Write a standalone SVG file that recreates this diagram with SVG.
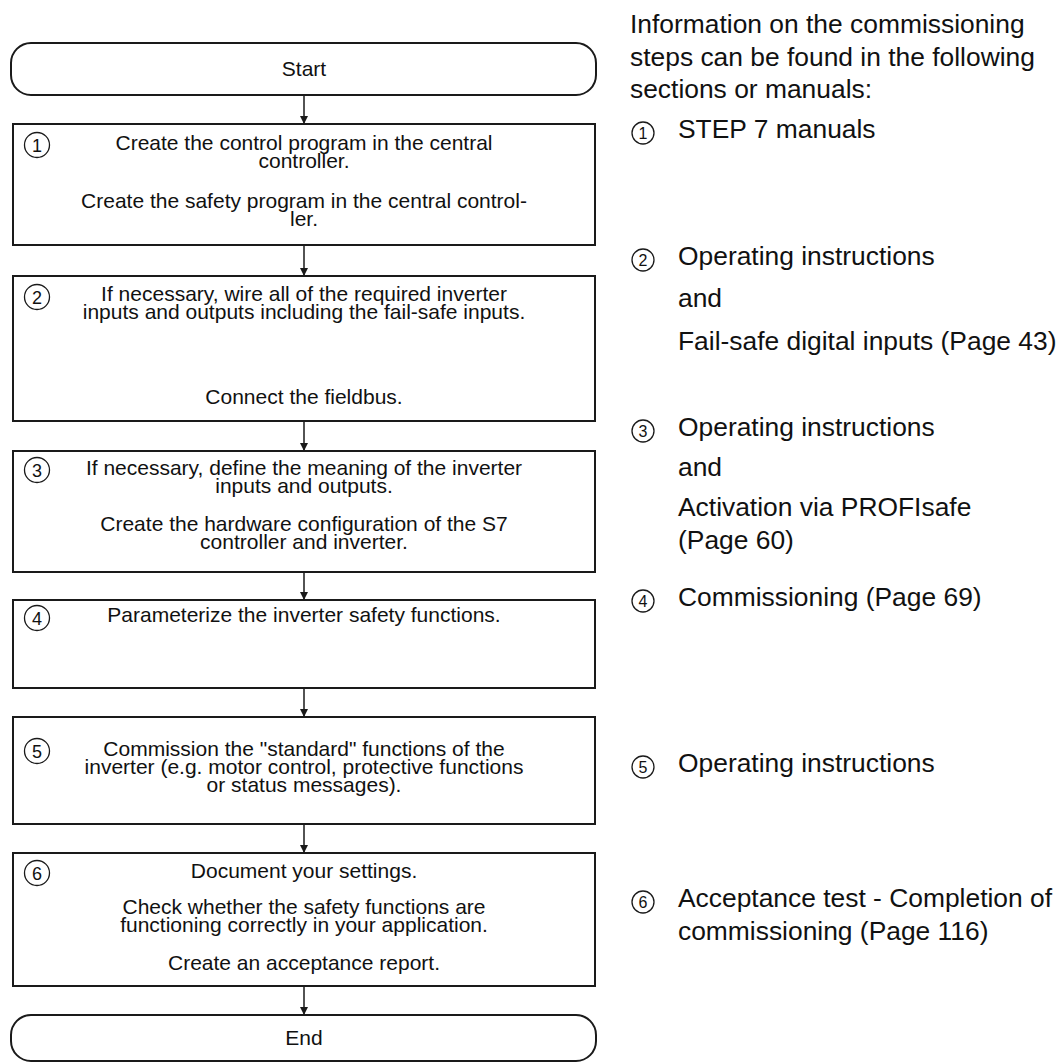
<svg xmlns="http://www.w3.org/2000/svg" width="1061" height="1063" viewBox="0 0 1061 1063">
<defs>
<marker id="arr" markerWidth="8" markerHeight="10" refX="8" refY="5" orient="auto" markerUnits="userSpaceOnUse">
<path d="M0,1 L8,5 L0,9 Z" fill="#1a1a1a"/>
</marker>
<style>
.box{fill:#fff;stroke:#1a1a1a;stroke-width:2}
.t{font-family:"Liberation Sans",Arial,sans-serif;font-size:21px;fill:#111;text-anchor:middle}
.n{font-family:"Liberation Sans",Arial,sans-serif;font-size:18px;fill:#111;text-anchor:middle}
.c{fill:none;stroke:#1a1a1a;stroke-width:1.3}
.r{font-family:"Liberation Sans",Arial,sans-serif;font-size:26.4px;fill:#111}
.rn{font-family:"Liberation Sans",Arial,sans-serif;font-size:16px;fill:#111;text-anchor:middle}
.con{stroke:#1a1a1a;stroke-width:1.5;fill:none;marker-end:url(#arr)}
</style>
</defs>
<rect width="1061" height="1063" fill="#fff"/>
<g id="connectors">
<line class="con" x1="304" y1="95" x2="304" y2="124"/>
<line class="con" x1="304" y1="245" x2="304" y2="276"/>
<line class="con" x1="304" y1="421" x2="304" y2="451"/>
<line class="con" x1="304" y1="572" x2="304" y2="600"/>
<line class="con" x1="304" y1="688" x2="304" y2="717"/>
<line class="con" x1="304" y1="824" x2="304" y2="853"/>
<line class="con" x1="304" y1="986" x2="304" y2="1015"/>
</g>
<g id="start">
<rect class="box" x="11" y="43" width="585" height="52" rx="20"/>
<text class="t" x="304" y="76">Start</text>
</g>
<g id="step1">
<rect class="box" x="13" y="124" width="582" height="121"/>
<circle class="c" cx="37" cy="145" r="12.5"/>
<text class="n" x="37" y="151.5">1</text>
<text class="t" x="304" y="150">Create the control program in the central</text>
<text class="t" x="304" y="168">controller.</text>
<text class="t" x="304" y="208">Create the safety program in the central control-</text>
<text class="t" x="304" y="226">ler.</text>
</g>
<g id="step2">
<rect class="box" x="13" y="276" width="582" height="145"/>
<circle class="c" cx="37" cy="297" r="12.5"/>
<text class="n" x="37" y="303.5">2</text>
<text class="t" x="304" y="301">If necessary, wire all of the required inverter</text>
<text class="t" x="304" y="319">inputs and outputs including the fail-safe inputs.</text>
<text class="t" x="304" y="404">Connect the fieldbus.</text>
</g>
<g id="step3">
<rect class="box" x="13" y="451" width="582" height="121"/>
<circle class="c" cx="37" cy="470" r="12.5"/>
<text class="n" x="37" y="476.5">3</text>
<text class="t" x="304" y="475">If necessary, define the meaning of the inverter</text>
<text class="t" x="304" y="493">inputs and outputs.</text>
<text class="t" x="304" y="531">Create the hardware configuration of the S7</text>
<text class="t" x="304" y="549">controller and inverter.</text>
</g>
<g id="step4">
<rect class="box" x="13" y="600" width="582" height="88"/>
<circle class="c" cx="37" cy="618" r="12.5"/>
<text class="n" x="37" y="624.5">4</text>
<text class="t" x="304" y="622">Parameterize the inverter safety functions.</text>
</g>
<g id="step5">
<rect class="box" x="13" y="717" width="582" height="107"/>
<circle class="c" cx="37" cy="751" r="12.5"/>
<text class="n" x="37" y="757.5">5</text>
<text class="t" x="304" y="756">Commission the "standard" functions of the</text>
<text class="t" x="304" y="774">inverter (e.g. motor control, protective functions</text>
<text class="t" x="304" y="792">or status messages).</text>
</g>
<g id="step6">
<rect class="box" x="13" y="853" width="582" height="133"/>
<circle class="c" cx="37" cy="873" r="12.5"/>
<text class="n" x="37" y="879.5">6</text>
<text class="t" x="304" y="878">Document your settings.</text>
<text class="t" x="304" y="914">Check whether the safety functions are</text>
<text class="t" x="304" y="932">functioning correctly in your application.</text>
<text class="t" x="304" y="970">Create an acceptance report.</text>
</g>
<g id="end">
<rect class="box" x="11" y="1015" width="585" height="46" rx="20"/>
<text class="t" x="304" y="1045">End</text>
</g>
<g id="notes">
<text class="r" x="630" y="33">Information on the commissioning</text>
<text class="r" x="630" y="66">steps can be found in the following</text>
<text class="r" x="630" y="98">sections or manuals:</text>
<circle class="c" cx="643" cy="133" r="11"/>
<text class="rn" x="643" y="138.5">1</text>
<text class="r" x="678" y="138">STEP 7 manuals</text>
<circle class="c" cx="643" cy="260" r="11"/>
<text class="rn" x="643" y="265.5">2</text>
<text class="r" x="678" y="265">Operating instructions</text>
<text class="r" x="678" y="307">and</text>
<text class="r" x="678" y="350">Fail-safe digital inputs (Page 43)</text>
<circle class="c" cx="643" cy="431" r="11"/>
<text class="rn" x="643" y="436.5">3</text>
<text class="r" x="678" y="436">Operating instructions</text>
<text class="r" x="678" y="476">and</text>
<text class="r" x="678" y="516">Activation via PROFIsafe</text>
<text class="r" x="678" y="549">(Page 60)</text>
<circle class="c" cx="643" cy="601" r="11"/>
<text class="rn" x="643" y="606.5">4</text>
<text class="r" x="678" y="606">Commissioning (Page 69)</text>
<circle class="c" cx="643" cy="767" r="11"/>
<text class="rn" x="643" y="772.5">5</text>
<text class="r" x="678" y="772">Operating instructions</text>
<circle class="c" cx="643" cy="902" r="11"/>
<text class="rn" x="643" y="907.5">6</text>
<text class="r" x="678" y="907">Acceptance test - Completion of</text>
<text class="r" x="678" y="940">commissioning (Page 116)</text>
</g>
</svg>
